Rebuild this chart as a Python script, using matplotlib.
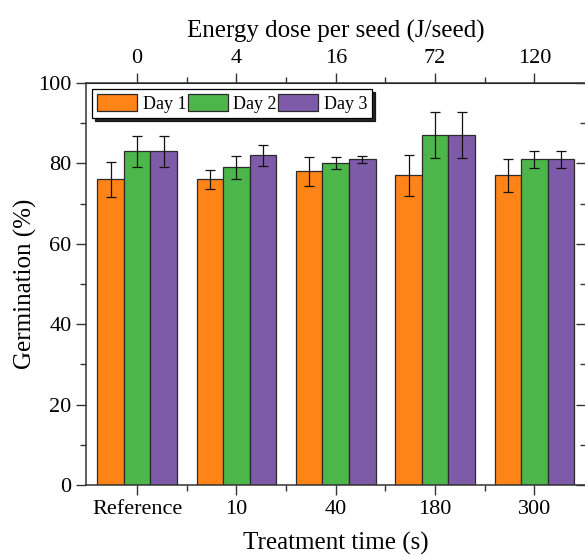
import matplotlib
matplotlib.use("Agg")
import matplotlib.pyplot as plt
import numpy as np
from matplotlib.ticker import MultipleLocator, FixedLocator

plt.rcParams['font.family'] = ['Liberation Serif', 'DejaVu Serif']
plt.rcParams['mathtext.fontset'] = 'stix'

categories = ["Reference", "10", "40", "180", "300"]
energy_labels = ["0", "4", "16", "72", "120"]
series_names = ["Day 1", "Day 2", "Day 3"]
day1 = [76, 76, 78, 77, 77]
day2 = [83, 79, 80, 87, 81]
day3 = [83, 82, 81, 87, 81]
err1 = [4.4, 2.3, 3.5, 5.0, 4.0]
err2 = [3.8, 2.9, 1.5, 5.7, 2.1]
err3 = [3.8, 2.6, 0.9, 5.7, 2.1]
colors = ["#FF8418", "#4DB64B", "#7E5BA8"]

fig = plt.figure(figsize=(5.85, 5.56), dpi=100)
W, H = 585, 556
ax = fig.add_axes([86 / W, 1 - 485 / H, 500 / W, 402 / H])

x = np.arange(len(categories))
width = 0.267
for i, (vals, errs) in enumerate(zip([day1, day2, day3], [err1, err2, err3])):
    ax.bar(x + (i - 1) * width, vals, width, color=colors[i], edgecolor="#2a2a2a",
           linewidth=0.9, label=series_names[i], zorder=2)
    ax.errorbar(x + (i - 1) * width, vals, yerr=errs, fmt='none', ecolor='#111111',
                elinewidth=0.9, capsize=3.5, capthick=0.9, zorder=3)

ax.set_xlim(-0.515, 4.52)
ax.set_ylim(0, 100)
ax.set_xticks(x)
ax.set_xticklabels(categories)
ax.xaxis.set_minor_locator(FixedLocator(x[:-1] + 0.5))
ax.yaxis.set_major_locator(MultipleLocator(20))
ax.yaxis.set_minor_locator(MultipleLocator(10))
ax.tick_params(axis='both', which='major', labelsize=16, length=7, width=1, direction='out', color='#333333')
ax.tick_params(axis='both', which='minor', length=4, width=1, direction='out', color='#333333')
ax.tick_params(axis='x', pad=4)
for s in ax.spines.values():
    s.set_linewidth(1.1)
    s.set_color('#333333')

ax.set_xlabel("Treatment time (s)", fontsize=18, labelpad=9)
ax.set_ylabel("Germination (%)", fontsize=18, labelpad=1)

# top axis
axt = ax.secondary_xaxis('top')
axt.set_xticks(x)
axt.set_xticklabels(energy_labels)
axt.xaxis.set_minor_locator(FixedLocator(x[:-1] + 0.5))
axt.tick_params(which='major', labelsize=16, length=7, width=1, direction='out', color='#333333', pad=4)
axt.tick_params(which='minor', length=4, width=1, direction='out', color='#333333')
axt.set_xlabel("Energy dose per seed (J/seed)", fontsize=18, labelpad=8)

# right axis ticks inward
axr = ax.secondary_yaxis('right')
axr.yaxis.set_major_locator(MultipleLocator(20))
axr.yaxis.set_minor_locator(MultipleLocator(10))
axr.tick_params(which='major', length=7, width=1, direction='in', labelright=False, color='#333333')
axr.tick_params(which='minor', length=4, width=1, direction='in', color='#333333')

leg = ax.legend(loc='upper left', bbox_to_anchor=(0.012, 0.985), borderaxespad=0,
                ncol=3, fontsize=13, frameon=True, fancybox=False,
                shadow={'color': 'black', 'alpha': 0.85, 'ox': 2, 'oy': -2},
                handlelength=2.2, handleheight=1.0, handletextpad=0.3, columnspacing=0.1,
                borderpad=0.3)
leg.get_frame().set_edgecolor('black')
leg.get_frame().set_linewidth(0.9)

fig.savefig("out.png", dpi=100)
